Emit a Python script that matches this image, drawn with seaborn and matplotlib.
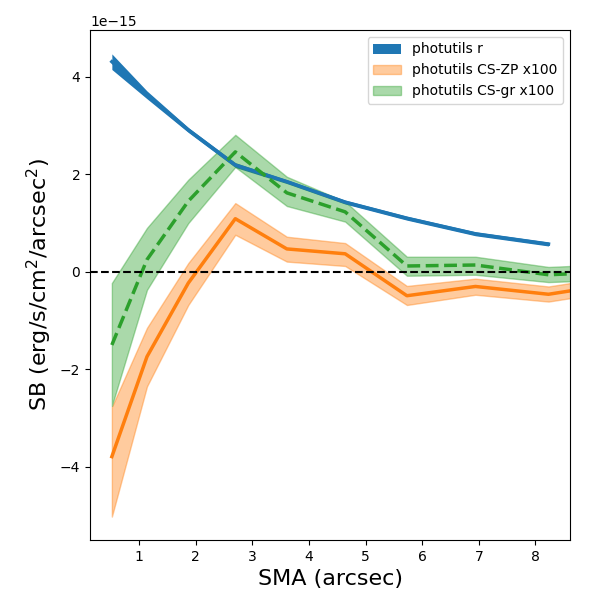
import numpy as np
import seaborn as sns
import matplotlib
matplotlib.use('Agg')
import matplotlib.pyplot as plt

# SMA radii (arcsec)
sma_r = [0.52, 1.14, 1.87, 2.70, 3.61, 4.64, 5.73, 6.94, 8.23]
sma_cs = [0.52, 1.14, 1.87, 2.70, 3.61, 4.64, 5.73, 6.94, 8.23, 9.61]

# surface brightness, units of 1e-15 erg/s/cm2/arcsec2
sb_r = [4.31, 3.63, 2.91, 2.19, 1.85, 1.43, 1.10, 0.78, 0.57]
sb_r_err = [0.16, 0.08, 0.05, 0.05, 0.04, 0.04, 0.04, 0.04, 0.04]

sb_zp = [-3.79, -1.74, -0.23, 1.09, 0.47, 0.37, -0.49, -0.30, -0.46, -0.21]
sb_zp_lo = [-5.02, -2.35, -0.68, 0.76, 0.21, 0.12, -0.68, -0.47, -0.61, -0.36]
sb_zp_hi = [-2.77, -1.15, 0.18, 1.41, 0.72, 0.59, -0.29, -0.14, -0.30, -0.05]

sb_gr = [-1.50, 0.25, 1.45, 2.46, 1.62, 1.23, 0.12, 0.14, -0.06, 0.01]
sb_gr_lo = [-2.75, -0.37, 1.00, 2.15, 1.35, 1.03, -0.08, -0.06, -0.21, -0.15]
sb_gr_hi = [-0.23, 0.90, 1.89, 2.81, 1.95, 1.44, 0.31, 0.31, 0.10, 0.17]

scale = 1e-15
r = np.array(sb_r) * scale
r_err = np.array(sb_r_err) * scale

fig = plt.figure(figsize=(6, 6), dpi=100)
ax = fig.add_axes([0.15, 0.10, 0.80, 0.85])

ax.fill_between(sma_r, r - r_err, r + r_err, color='C0', alpha=1.0, lw=0,
                label='photutils r')
sns.lineplot(x=sma_r, y=r, ax=ax, color='C0', lw=2.5, legend=False)

ax.fill_between(sma_cs, np.array(sb_zp_lo) * scale, np.array(sb_zp_hi) * scale,
                color='C1', alpha=0.4, label='photutils CS-ZP x100')
sns.lineplot(x=sma_cs, y=np.array(sb_zp) * scale, ax=ax, color='C1', lw=2.5,
             legend=False)

ax.fill_between(sma_cs, np.array(sb_gr_lo) * scale, np.array(sb_gr_hi) * scale,
                color='C2', alpha=0.4, label='photutils CS-gr x100')
sns.lineplot(x=sma_cs, y=np.array(sb_gr) * scale, ax=ax, color='C2', lw=2.5,
             linestyle='--', legend=False)

ax.axhline(0, color='k', ls='--', lw=1.5)

ax.set_xlim(0.134, 8.61)
ax.set_ylim(-5.5e-15, 4.96e-15)
ax.set_xlabel('SMA (arcsec)', fontsize=16)
ax.set_ylabel('SB (erg/s/cm$^2$/arcsec$^2$)', fontsize=16)
ax.legend(loc='upper right')

plt.savefig('out.png')
